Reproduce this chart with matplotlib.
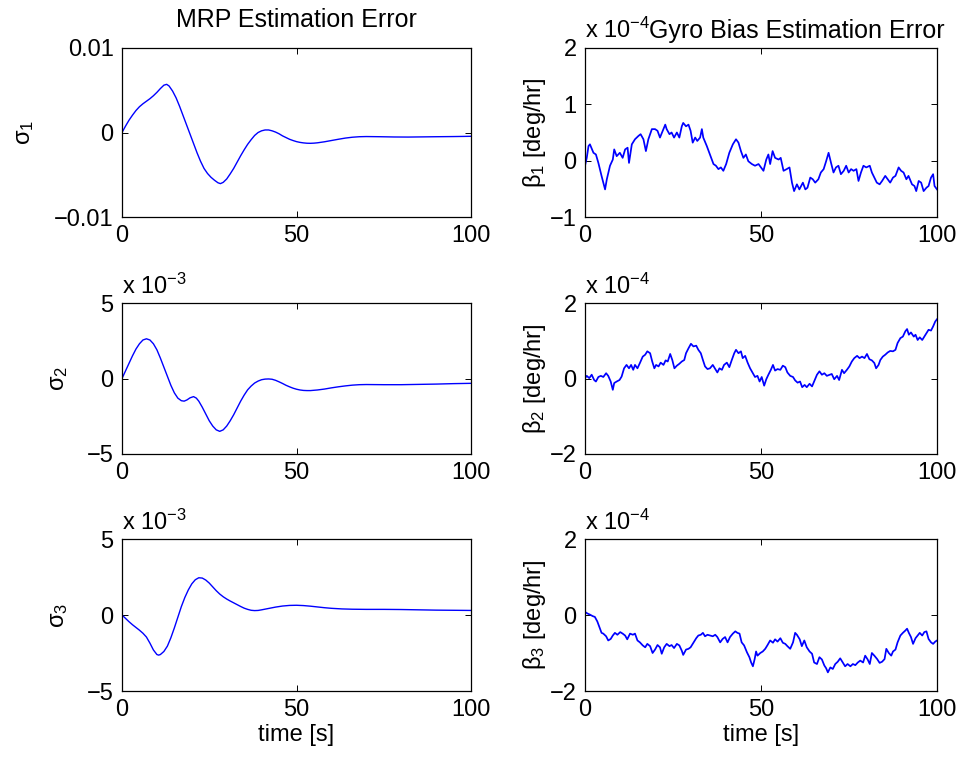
import numpy as np
import matplotlib
matplotlib.use("Agg")
import matplotlib.pyplot as plt

plt.rcParams['font.family'] = ['Liberation Sans', 'DejaVu Sans']
plt.rcParams['mathtext.fontset'] = 'custom'
plt.rcParams['mathtext.rm'] = 'Liberation Sans'
plt.rcParams['mathtext.it'] = 'Liberation Sans:italic'
plt.rcParams['mathtext.bf'] = 'Liberation Sans:bold'

# =============================
# MRP error (left column), units of 1e-3
# =============================
t_s1 = [0, 1, 2, 3, 4, 5, 6, 7, 8, 9, 10, 11, 12, 12.8, 13.5, 14.5, 15.5,
        16.5, 17.5, 18.5, 19.5, 20.5, 21.5, 22.5, 23.5, 24.5, 25.5, 26.5,
        27.5, 28.2, 29, 30, 31, 32, 33, 34, 35, 36, 37, 38, 39, 40, 41, 42,
        43, 44, 45, 46, 47, 48, 49, 50, 51, 52, 53, 54, 55, 56, 58, 60, 62,
        64, 66, 68, 70, 74, 78, 82, 86, 90, 95, 100]
s1 = [0, 0.75, 1.45, 2.05, 2.6, 3.05, 3.4, 3.7, 4.0, 4.35, 4.75, 5.2, 5.6,
      5.7, 5.5, 4.9, 4.1, 3.1, 2.0, 0.9, -0.2, -1.3, -2.4, -3.4, -4.25,
      -4.85, -5.3, -5.65, -5.95, -6.05, -5.9, -5.5, -4.9, -4.25, -3.5,
      -2.75, -2.05, -1.4, -0.85, -0.35, 0.0, 0.2, 0.3, 0.3, 0.2, 0.05,
      -0.15, -0.4, -0.6, -0.8, -0.95, -1.08, -1.17, -1.23, -1.27, -1.28,
      -1.26, -1.22, -1.1, -0.95, -0.8, -0.66, -0.56, -0.5, -0.48, -0.5,
      -0.53, -0.54, -0.52, -0.5, -0.48, -0.45]

t_s2 = [0, 1, 2, 3, 4, 5, 6, 7, 8, 9, 10, 11, 12, 13, 14, 15, 16, 17, 17.8,
        18.6, 19.5, 20.5, 21.3, 22, 23, 24, 25, 26, 27, 28, 29, 30, 31, 32,
        33, 34, 35, 36, 37, 38, 39, 40, 41, 42, 43, 44, 45, 46, 47, 48, 49,
        50, 51, 52, 53, 54, 56, 58, 60, 62, 64, 66, 68, 70, 75, 80, 85, 90,
        95, 100]
s2 = [0, 0.5, 1.0, 1.5, 1.95, 2.3, 2.55, 2.63, 2.55, 2.3, 1.9, 1.35, 0.75,
      0.15, -0.45, -0.95, -1.3, -1.47, -1.5, -1.42, -1.28, -1.2, -1.3,
      -1.5, -1.9, -2.35, -2.8, -3.15, -3.4, -3.5, -3.4, -3.15, -2.8, -2.4,
      -1.95, -1.5, -1.1, -0.75, -0.5, -0.3, -0.17, -0.08, -0.04, -0.03,
      -0.05, -0.12, -0.22, -0.33, -0.45, -0.55, -0.64, -0.71, -0.76, -0.79,
      -0.8, -0.8, -0.76, -0.7, -0.62, -0.55, -0.49, -0.44, -0.41, -0.4,
      -0.41, -0.41, -0.39, -0.37, -0.34, -0.32]

t_s3 = [0, 1, 2, 3, 4, 5, 6, 7, 8, 9, 10, 10.5, 11, 12, 13, 14, 15, 16, 17,
        18, 19, 20, 21, 22, 23, 24, 25, 26, 27, 28, 29, 30, 31, 32, 33, 34,
        35, 36, 37, 38, 39, 40, 42, 44, 46, 48, 50, 52, 54, 56, 58, 60, 63,
        66, 70, 75, 80, 85, 90, 95, 100]
s3 = [0, -0.22, -0.44, -0.64, -0.82, -1.0, -1.2, -1.45, -1.85, -2.3, -2.6,
      -2.64, -2.6, -2.4, -2.05, -1.5, -0.85, -0.15, 0.55, 1.15, 1.65, 2.05,
      2.32, 2.45, 2.43, 2.3, 2.1, 1.85, 1.6, 1.38, 1.2, 1.05, 0.92, 0.8,
      0.68, 0.56, 0.45, 0.37, 0.31, 0.29, 0.3, 0.34, 0.43, 0.52, 0.59,
      0.63, 0.64, 0.62, 0.58, 0.53, 0.48, 0.44, 0.4, 0.38, 0.37, 0.37,
      0.36, 0.34, 0.32, 0.31, 0.3]

# =============================
# Gyro bias error (right column), units of 1e-4 deg/hr
# =============================
t_b1 = [0, 0.5, 1, 1.4, 2.4, 3.1, 3.8, 4.7, 5.7, 6.2, 7.1, 7.9, 8.3, 9, 9.9,
        10.7, 11.4, 12.1, 12.5, 13.3, 14.2, 15.2, 15.8, 16.6, 17.3, 18, 19,
        19.9, 20.6, 21.3, 22.1, 22.8, 23.2, 24, 24.6, 25.3, 26.1, 26.8, 27.5,
        27.9, 28.7, 29.4, 30, 30.6, 31.3, 31.9, 32.7, 33.2, 33.6, 34.6, 35.5,
        36.5, 37.2, 37.9, 38.6, 39.3, 40.1, 41, 42, 42.9, 43.6, 44.3, 45,
        45.7, 46.4, 47.4, 48.3, 49.3, 50, 50.7, 51.5, 52.1, 52.6, 53.3, 54,
        55, 55.6, 56.4, 57.3, 58.1, 58.8, 59.4, 60.2, 60.9, 61.9, 62.6, 63.2,
        64, 64.7, 65.4, 66.3, 67, 67.8, 68.5, 69.2, 69.9, 70.6, 71.3, 72,
        72.7, 73.5, 74.2, 74.9, 75.6, 76.3, 77.1, 77.7, 78.4, 79.1, 79.9,
        80.9, 81.5, 82.2, 82.9, 83.7, 84.4, 85.3, 86, 86.7, 87.5, 88.2, 89.1,
        89.8, 90.5, 91.3, 91.9, 92.9, 93.6, 94.1, 94.8, 95.5, 96.2, 97, 97.6,
        98.3, 98.9, 99.3, 100]
b1 = [-0.09, 0.05, 0.26, 0.29, 0.14, 0.11, -0.04, -0.27, -0.51, -0.33, -0.09,
      0.02, 0.20, 0.08, 0.14, 0.05, 0.20, 0.23, -0.04, 0.29, 0.38, 0.44,
      0.47, 0.38, 0.17, 0.38, 0.56, 0.56, 0.53, 0.41, 0.53, 0.64, 0.56,
      0.47, 0.50, 0.41, 0.50, 0.41, 0.61, 0.67, 0.61, 0.64, 0.53, 0.32,
      0.41, 0.35, 0.41, 0.56, 0.41, 0.26, 0.11, -0.06, -0.09, -0.15, -0.12,
      -0.18, -0.06, 0.14, 0.29, 0.38, 0.32, 0.17, 0.05, 0.11, -0.01, -0.06,
      -0.09, -0.06, -0.12, -0.18, 0.02, 0.11, -0.06, 0.17, 0.05, 0.02, 0.05,
      -0.18, -0.15, -0.12, -0.39, -0.54, -0.42, -0.51, -0.39, -0.51, -0.48,
      -0.30, -0.33, -0.39, -0.33, -0.21, -0.15, -0.01, 0.14, -0.04, -0.21,
      -0.12, -0.09, -0.24, -0.18, -0.09, -0.21, -0.15, -0.18, -0.15, -0.36,
      -0.21, -0.09, -0.12, -0.09, -0.21, -0.30, -0.39, -0.42, -0.36, -0.27,
      -0.33, -0.39, -0.30, -0.27, -0.12, -0.18, -0.21, -0.33, -0.27, -0.42,
      -0.45, -0.54, -0.36, -0.39, -0.54, -0.48, -0.45, -0.30, -0.24, -0.45,
      -0.51]

t_b2 = [0, 0.5, 1.2, 1.9, 2.6, 3.1, 3.8, 4.5, 5.2, 6, 6.6, 7.3, 7.9, 8.3, 9,
        9.8, 10.4, 11.1, 11.8, 12.5, 13.1, 13.7, 14.2, 14.9, 15.6, 16.4,
        17.1, 17.7, 18.5, 19.1, 19.7, 20.2, 20.9, 21.5, 22.3, 22.9, 23.5,
        24.2, 24.8, 25.4, 26.1, 26.8, 27.5, 28.2, 28.7, 29.4, 30.1, 30.8,
        31.6, 32.2, 32.9, 33.5, 34.1, 34.8, 35.5, 36.3, 37, 37.6, 38.2, 38.9,
        39.5, 40.3, 41, 41.7, 42.4, 42.9, 43.6, 44.3, 44.8, 45.5, 46.2, 46.9,
        47.7, 48.3, 49, 49.6, 50.2, 50.9, 51.5, 52.1, 52.8, 53.4, 54, 54.7,
        55.5, 56.2, 56.9, 57.5, 58.3, 59.1, 59.7, 60.4, 61.1, 61.7, 62.4, 63,
        63.8, 64.5, 65.1, 65.9, 66.6, 67.3, 68, 68.7, 69.5, 70.1, 70.8, 71.6,
        72.2, 73, 73.6, 74.4, 75.1, 75.8, 76.5, 77.3, 78, 78.7, 79.4, 80.1,
        80.8, 81.5, 82.2, 82.7, 83.4, 83.9, 84.6, 85.3, 86, 86.7, 87.5, 88.2,
        88.8, 89.6, 90.3, 91, 91.5, 92, 92.6, 93.4, 93.9, 94.5, 95.1, 95.8,
        96.4, 97, 97.6, 98.3, 98.9, 99.5, 100]
b2 = [0.01, 0.07, 0.01, 0.10, -0.04, -0.08, 0.04, 0.07, 0.04, 0.14, 0.07,
      -0.08, -0.30, -0.12, -0.08, -0.04, 0.05, 0.27, 0.36, 0.27, 0.36, 0.23,
      0.36, 0.27, 0.41, 0.58, 0.63, 0.72, 0.67, 0.45, 0.27, 0.36, 0.32,
      0.42, 0.36, 0.48, 0.45, 0.65, 0.49, 0.27, 0.34, 0.39, 0.45, 0.49,
      0.67, 0.80, 0.92, 0.85, 0.87, 0.76, 0.67, 0.49, 0.32, 0.25, 0.27,
      0.36, 0.25, 0.16, 0.27, 0.23, 0.36, 0.42, 0.30, 0.49, 0.67, 0.76,
      0.67, 0.72, 0.54, 0.60, 0.42, 0.27, 0.14, 0.04, 0.07, -0.08, 0.04,
      -0.19, -0.02, 0.10, 0.23, 0.36, 0.21, 0.25, 0.23, 0.34, 0.30, 0.16,
      0.07, 0.04, -0.05, -0.11, -0.08, -0.23, -0.17, -0.23, -0.14, -0.21,
      -0.08, 0.10, 0.19, 0.10, 0.14, 0.07, 0.10, 0.12, -0.02, 0.07, -0.04,
      0.23, 0.14, 0.23, 0.32, 0.45, 0.54, 0.60, 0.54, 0.58, 0.54, 0.65,
      0.51, 0.48, 0.41, 0.27, 0.36, 0.49, 0.58, 0.63, 0.69, 0.73, 0.72,
      0.76, 0.94, 1.07, 1.11, 1.25, 1.31, 1.16, 1.22, 1.11, 1.16, 1.02,
      1.09, 1.02, 1.11, 1.20, 1.29, 1.27, 1.38, 1.51, 1.57]

t_b3 = [0, 0.7, 1.4, 2.2, 2.8, 3.5, 4.1, 4.7, 5.2, 6, 6.6, 7.3, 7.9, 8.5,
        9.2, 10, 10.7, 11.4, 12, 12.8, 13.6, 14.2, 14.9, 15.6, 16.4, 17.1,
        17.7, 18.5, 19.2, 19.9, 20.6, 21.3, 21.8, 22.5, 23.2, 24, 24.6,
        25.3, 26.1, 26.8, 27.5, 27.9, 28.7, 29.4, 30, 30.8, 31.6, 32.2,
        32.9, 33.5, 34.1, 34.8, 35.5, 36.3, 37, 37.6, 38.4, 39.1, 39.8,
        40.5, 41.2, 42, 42.7, 43.3, 43.9, 44.5, 45.2, 46, 46.7, 47.2, 47.7,
        48.2, 48.6, 49, 49.8, 50.5, 51.2, 51.8, 52.6, 53.4, 54, 54.7, 55.5,
        56.2, 56.9, 57.5, 58.3, 59.1, 59.7, 60.2, 61, 61.6, 62.3, 63, 63.8,
        64.5, 65.1, 65.9, 66.6, 67.3, 68, 68.5, 69, 69.7, 70.4, 71.1, 71.8,
        72.5, 73.3, 73.9, 74.6, 75.4, 76.1, 76.8, 77.5, 78.2, 79, 79.6,
        80.3, 80.9, 81.5, 82.2, 83, 83.7, 84.4, 85.1, 85.6, 86.3, 87, 87.5,
        88.2, 88.8, 89.6, 90.3, 91, 91.5, 92, 92.6, 93.2, 93.9, 94.5, 95.1,
        95.8, 96.4, 97, 97.6, 98.3, 98.9, 99.5, 100]
b3 = [0.08, 0.04, 0.01, -0.03, -0.05, -0.17, -0.32, -0.47, -0.49, -0.56,
      -0.67, -0.63, -0.54, -0.47, -0.52, -0.45, -0.49, -0.54, -0.64, -0.49,
      -0.52, -0.49, -0.67, -0.72, -0.80, -0.85, -0.76, -0.82, -1.00, -0.91,
      -0.79, -0.85, -1.02, -0.85, -0.76, -0.82, -0.79, -0.87, -0.76, -0.80,
      -0.94, -1.05, -0.91, -0.89, -0.85, -0.73, -0.61, -0.54, -0.52, -0.47,
      -0.56, -0.52, -0.54, -0.56, -0.52, -0.58, -0.72, -0.63, -0.58, -0.72,
      -0.58, -0.49, -0.43, -0.47, -0.49, -0.72, -0.80, -0.98, -1.11, -1.25,
      -1.35, -1.16, -0.96, -1.07, -1.00, -0.96, -0.89, -0.80, -0.67, -0.73,
      -0.64, -0.70, -0.61, -0.73, -0.76, -0.82, -0.89, -0.72, -0.47, -0.52,
      -0.64, -0.82, -0.67, -0.85, -0.96, -1.02, -1.25, -1.29, -1.11, -1.17,
      -1.33, -1.40, -1.51, -1.38, -1.42, -1.29, -1.23, -1.14, -1.26, -1.35,
      -1.29, -1.35, -1.29, -1.32, -1.25, -1.20, -1.25, -1.07, -1.17, -1.29,
      -1.00, -1.07, -1.16, -1.26, -1.23, -1.16, -0.89, -1.00, -1.07, -0.96,
      -0.91, -0.72, -0.54, -0.47, -0.41, -0.36, -0.47, -0.58, -0.76, -0.61,
      -0.54, -0.47, -0.54, -0.45, -0.43, -0.63, -0.72, -0.76, -0.70, -0.67]

x_ticks = [0, 50, 100]
x_ticklabels = ["0", "50", "100"]

FS = 17
BLUE = (0, 0, 1)


def style_axes(ax, yticks, yticklabels, ylim):
    ax.set_xlim(0, 100)
    ax.set_ylim(*ylim)
    ax.set_xticks(x_ticks)
    ax.set_xticklabels(x_ticklabels)
    ax.set_yticks(yticks)
    ax.set_yticklabels(yticklabels)
    ax.tick_params(direction='in', top=True, right=True, length=4,
                   width=0.7, labelsize=FS, pad=6)
    for sp in ax.spines.values():
        sp.set_linewidth(0.9)


fig = plt.figure(figsize=(9.6, 7.58), dpi=100)

left_x, left_w = 122 / 960, 349 / 960
right_x, right_w = 585 / 960, 352 / 960
rows = [(1 - 217 / 758, 169 / 758),
        (1 - 454 / 758, 151 / 758),
        (1 - 691 / 758, 152 / 758)]

# ---------- left column ----------
ax = fig.add_axes([left_x, rows[0][0], left_w, rows[0][1]])
ax.plot(t_s1, np.array(s1) * 1e-3, color=BLUE, lw=1.0)
style_axes(ax, [-0.01, 0, 0.01], ["\u22120.01", "0", "0.01"], (-0.01, 0.01))
ax.set_title("MRP Estimation Error", fontsize=18, pad=15)
ax.set_ylabel("σ$_1$", fontsize=FS)
ax.yaxis.set_label_coords(-0.245, 0.5)

ax = fig.add_axes([left_x, rows[1][0], left_w, rows[1][1]])
ax.plot(t_s2, s2, color=BLUE, lw=1.0)
style_axes(ax, [-5, 0, 5], ["\u22125", "0", "5"], (-5, 5))
ax.text(0, 1.03, "x 10$^{-3}$", transform=ax.transAxes, fontsize=FS,
        ha='left', va='bottom')
ax.set_ylabel("σ$_2$", fontsize=FS)
ax.yaxis.set_label_coords(-0.15, 0.5)

ax = fig.add_axes([left_x, rows[2][0], left_w, rows[2][1]])
ax.plot(t_s3, s3, color=BLUE, lw=1.0)
style_axes(ax, [-5, 0, 5], ["\u22125", "0", "5"], (-5, 5))
ax.text(0, 1.03, "x 10$^{-3}$", transform=ax.transAxes, fontsize=FS,
        ha='left', va='bottom')
ax.set_ylabel("σ$_3$", fontsize=FS)
ax.yaxis.set_label_coords(-0.15, 0.5)
ax.set_xlabel("time [s]", fontsize=FS, labelpad=2)

# ---------- right column ----------
ax = fig.add_axes([right_x, rows[0][0], right_w, rows[0][1]])
ax.plot(t_b1, b1, color=BLUE, lw=1.25)
style_axes(ax, [-1, 0, 1, 2], ["\u22121", "0", "1", "2"], (-1, 2))
ax.text(0, 1.03, "x 10$^{-4}$", transform=ax.transAxes, fontsize=FS,
        ha='left', va='bottom')
ax.text(0.603, 1.03, "Gyro Bias Estimation Error", transform=ax.transAxes,
        fontsize=18, ha='center', va='bottom')
ax.set_ylabel("β$_1$ [deg/hr]", fontsize=FS)
ax.yaxis.set_label_coords(-0.105, 0.5)

ax = fig.add_axes([right_x, rows[1][0], right_w, rows[1][1]])
ax.plot(t_b2, b2, color=BLUE, lw=1.25)
style_axes(ax, [-2, 0, 2], ["\u22122", "0", "2"], (-2, 2))
ax.text(0, 1.03, "x 10$^{-4}$", transform=ax.transAxes, fontsize=FS,
        ha='left', va='bottom')
ax.set_ylabel("β$_2$ [deg/hr]", fontsize=FS)
ax.yaxis.set_label_coords(-0.105, 0.5)

ax = fig.add_axes([right_x, rows[2][0], right_w, rows[2][1]])
ax.plot(t_b3, b3, color=BLUE, lw=1.25)
style_axes(ax, [-2, 0, 2], ["\u22122", "0", "2"], (-2, 2))
ax.text(0, 1.03, "x 10$^{-4}$", transform=ax.transAxes, fontsize=FS,
        ha='left', va='bottom')
ax.set_ylabel("β$_3$ [deg/hr]", fontsize=FS)
ax.yaxis.set_label_coords(-0.105, 0.5)
ax.set_xlabel("time [s]", fontsize=FS, labelpad=2)

fig.savefig("out.png", dpi=100)
